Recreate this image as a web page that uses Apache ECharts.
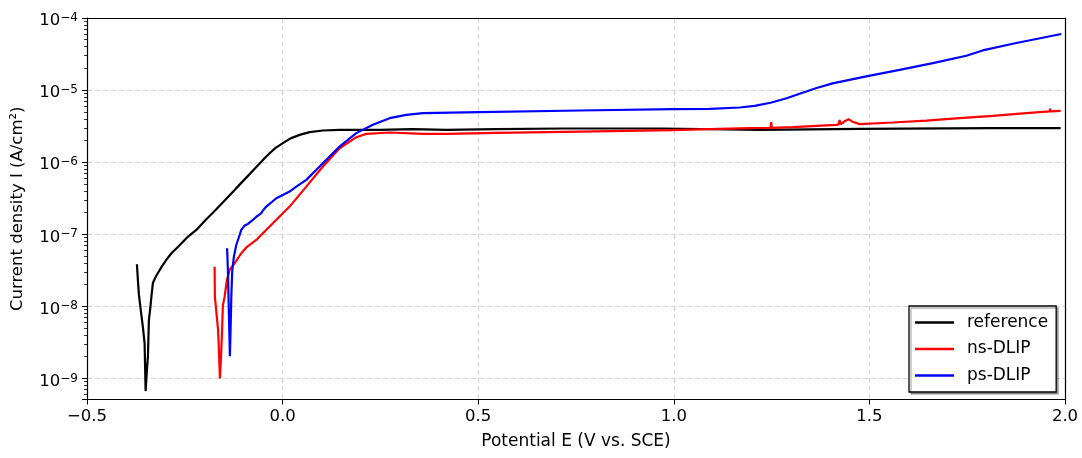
<!DOCTYPE html>
<html>
<head>
<meta charset="utf-8">
<script src="https://cdn.jsdelivr.net/npm/echarts@6/dist/echarts.min.js"></script>
<style>
html,body{margin:0;padding:0;background:#fff;}
#chart{width:1082px;height:458px;}
</style>
</head>
<body>
<div id="chart"></div>
<script>
// Potential E (V vs. SCE) and current density I (A/cm²)
const refE = [-0.3724,-0.3699,-0.3673,-0.3622,-0.3571,-0.3528,-0.3502,-0.3469,-0.3443,-0.3418,-0.3382,-0.3349,-0.3315,-0.3259,-0.3188,-0.3093,-0.2973,-0.2837,-0.2676,-0.2454,-0.2206,-0.1968,-0.1713,-0.1457,-0.1201,-0.0946,-0.0690,-0.0435,-0.0332,-0.0179,0.0008,0.0204,0.0435,0.0690,0.1030,0.1457,0.2480,0.3323,0.4185,0.5463,0.7157,0.9714,1.2193,1.4749,1.8149,1.9888];
const refI = [3.83e-8,2.32e-8,1.44e-8,8.61e-9,5.15e-9,3.09e-9,6.67e-10,1.30e-9,1.98e-9,6.46e-9,9.46e-9,1.44e-8,2.11e-8,2.47e-8,2.90e-8,3.52e-8,4.40e-8,5.50e-8,6.67e-8,8.89e-8,1.15e-7,1.58e-7,2.17e-7,3.04e-7,4.26e-7,5.96e-7,8.34e-7,1.17e-6,1.33e-6,1.58e-6,1.84e-6,2.14e-6,2.39e-6,2.61e-6,2.75e-6,2.81e-6,2.81e-6,2.87e-6,2.81e-6,2.87e-6,2.93e-6,2.93e-6,2.81e-6,2.90e-6,2.96e-6,2.96e-6];

const nsE = [-0.1738,-0.1731,-0.1687,-0.1649,-0.1623,-0.1603,-0.1572,-0.1552,-0.1526,-0.1483,-0.1424,-0.1355,-0.1227,-0.1056,-0.0928,-0.0672,-0.0504,-0.0248,0.0179,0.0606,0.1030,0.1457,0.1884,0.2140,0.2735,0.3586,0.4185,0.5463,0.7592,0.9977,1.0915,1.1937,1.2474,1.2490,1.2505,1.3044,1.4154,1.4213,1.4238,1.4264,1.4366,1.4468,1.4571,1.4749,1.5601,1.6455,1.7306,1.8157,1.9010,1.9606,1.9619,1.9632,1.9888];
const nsI = [3.55e-8,1.36e-8,1.29e-8,4.69e-9,2.11e-9,1.00e-9,2.11e-9,3.99e-9,1.04e-8,1.35e-8,2.32e-8,3.19e-8,3.95e-8,5.45e-8,6.56e-8,8.34e-8,1.03e-7,1.42e-7,2.42e-7,4.58e-7,8.69e-7,1.56e-6,2.22e-6,2.47e-6,2.58e-6,2.47e-6,2.47e-6,2.55e-6,2.66e-6,2.78e-6,2.87e-6,2.96e-6,2.99e-6,3.60e-6,2.99e-6,3.06e-6,3.30e-6,3.34e-6,3.86e-6,3.35e-6,3.69e-6,3.95e-6,3.63e-6,3.37e-6,3.55e-6,3.78e-6,4.08e-6,4.40e-6,4.80e-6,5.06e-6,5.50e-6,5.08e-6,5.15e-6];

const psE = [-0.1419,-0.1398,-0.1373,-0.1347,-0.1324,-0.1311,-0.1286,-0.1245,-0.1184,-0.1099,-0.1056,-0.0971,-0.0887,-0.0759,-0.0672,-0.0544,-0.0511,-0.0417,-0.0161,0.0179,0.0350,0.0606,0.1030,0.1457,0.1884,0.2308,0.2735,0.3162,0.3586,0.5036,0.7592,0.9977,1.0915,1.1682,1.2065,1.2474,1.2883,1.3216,1.3650,1.4059,1.4921,1.5772,1.6623,1.7477,1.7894,1.7945,1.8755,1.9906];
const psI = [6.40e-8,3.19e-8,8.00e-9,2.04e-9,6.46e-9,1.36e-8,3.19e-8,4.89e-8,7.10e-8,9.77e-8,1.15e-7,1.32e-7,1.39e-7,1.58e-7,1.75e-7,1.96e-7,2.11e-7,2.42e-7,3.16e-7,3.91e-7,4.58e-7,5.68e-7,9.68e-7,1.65e-6,2.53e-6,3.30e-6,4.08e-6,4.54e-6,4.80e-6,4.94e-6,5.21e-6,5.45e-6,5.50e-6,5.73e-6,6.05e-6,6.67e-6,7.69e-6,8.91e-6,1.07e-5,1.24e-5,1.55e-5,1.91e-5,2.37e-5,2.99e-5,3.55e-5,3.46e-5,4.50e-5,6.00e-5];

const seriesNames = ['reference', 'ns-DLIP', 'ps-DLIP'];
const seriesColors = ['#000000', '#ff0000', '#0000ff'];
const xTicks = [-0.5, 0.0, 0.5, 1.0, 1.5, 2.0];

const FONT = 'DejaVu Sans';
const zip = (xs, ys) => xs.map((x, i) => [x, ys[i]]);
const allData = [zip(refE, refI), zip(nsE, nsI), zip(psE, psI)];

const chart = echarts.init(document.getElementById('chart'), null, {renderer: 'canvas'});
const gridLine = {show: true, showMinLine: false, showMaxLine: false, lineStyle: {color: '#d4d4d4', width: 1, type: [5, 3]}};
const spine = {show: true, onZero: false, lineStyle: {color: '#000', width: 1.2}};
const option = {
  animation: false,
  backgroundColor: '#ffffff',
  grid: {
    left: 87, right: 17, top: 18, bottom: 58.5,
    show: false
  },
  legend: {
    data: seriesNames.map((n, i) => ({name: n, icon: 'rect', itemStyle: {color: seriesColors[i]}})),
    orient: 'vertical',
    left: 909, top: 306,
    itemWidth: 39, itemHeight: 2.5,
    itemGap: 9.5,
    padding: [8, 8, 8, 6],
    borderColor: '#000', borderWidth: 1.3, borderRadius: 0,
    backgroundColor: '#fff',
    shadowColor: 'rgba(0,0,0,0.3)', shadowOffsetX: 2, shadowOffsetY: 2, shadowBlur: 0,
    textStyle: {fontFamily: FONT, fontSize: 17, color: '#000', padding: [0, 0, 0, 8]}
  },
  xAxis: [{
    type: 'value',
    min: xTicks[0], max: xTicks[xTicks.length - 1], interval: 0.5,
    name: 'Potential E (V vs. SCE)',
    nameLocation: 'middle', nameGap: 34,
    nameTextStyle: {fontFamily: FONT, fontSize: 17, color: '#000'},
    axisLine: spine,
    axisTick: {show: true, inside: false, length: 5, lineStyle: {color: '#000', width: 1}},
    axisLabel: {
      margin: 9, fontFamily: FONT, fontSize: 16.5, color: '#000',
      formatter: v => (v < 0 ? '\u2212' : '') + Math.abs(v).toFixed(1)
    },
    splitLine: gridLine,
    z: 1
  }, {
    type: 'value', position: 'top',
    min: xTicks[0], max: xTicks[xTicks.length - 1], interval: 0.5,
    axisLine: spine, axisTick: {show: false}, axisLabel: {show: false},
    splitLine: {show: false}, z: 6
  }],
  yAxis: [{
    type: 'log', logBase: 10,
    min: 5.1e-10, max: 1e-4,
    name: 'Current density I (A/cm\u00B2)',
    nameLocation: 'middle', nameGap: 61, nameRotate: 90,
    nameTextStyle: {fontFamily: FONT, fontSize: 16.5, color: '#000'},
    axisLine: spine,
    axisTick: {show: true, inside: false, length: 5, lineStyle: {color: '#000', width: 1}},
    minorTick: {show: true, splitNumber: 9, length: 3, lineStyle: {color: '#000', width: 0.8}},
    axisLabel: {
      margin: 9, color: '#000', padding: [6, 0, 0, 0],
      formatter: v => {
        const e = Math.log10(v);
        if (Math.abs(e - Math.round(e)) > 1e-6) return '';
        const n = Math.round(e);
        return '{b|10}{s|' + (n < 0 ? '\u2212' : '') + Math.abs(n) + '}';
      },
      rich: {
        b: {fontFamily: FONT, fontSize: 16.5, color: '#000', lineHeight: 18, verticalAlign: 'middle'},
        s: {fontFamily: FONT, fontSize: 12, color: '#000', lineHeight: 10, verticalAlign: 'top'}
      }
    },
    splitLine: gridLine,
    minorSplitLine: {show: false},
    z: 1
  }, {
    type: 'log', logBase: 10, position: 'right',
    min: 5.1e-10, max: 1e-4,
    axisLine: spine, axisTick: {show: false}, minorTick: {show: false},
    axisLabel: {show: false}, splitLine: {show: false}, z: 6
  }],
  series: allData.map((d, i) => ({
    name: seriesNames[i],
    type: 'line',
    xAxisIndex: 0, yAxisIndex: 0,
    data: d,
    showSymbol: false,
    symbol: 'none',
    lineStyle: {color: seriesColors[i], width: 2.2},
    itemStyle: {color: seriesColors[i]},
    z: 2 + i
  }))
};
chart.setOption(option);
</script>
</body>
</html>
